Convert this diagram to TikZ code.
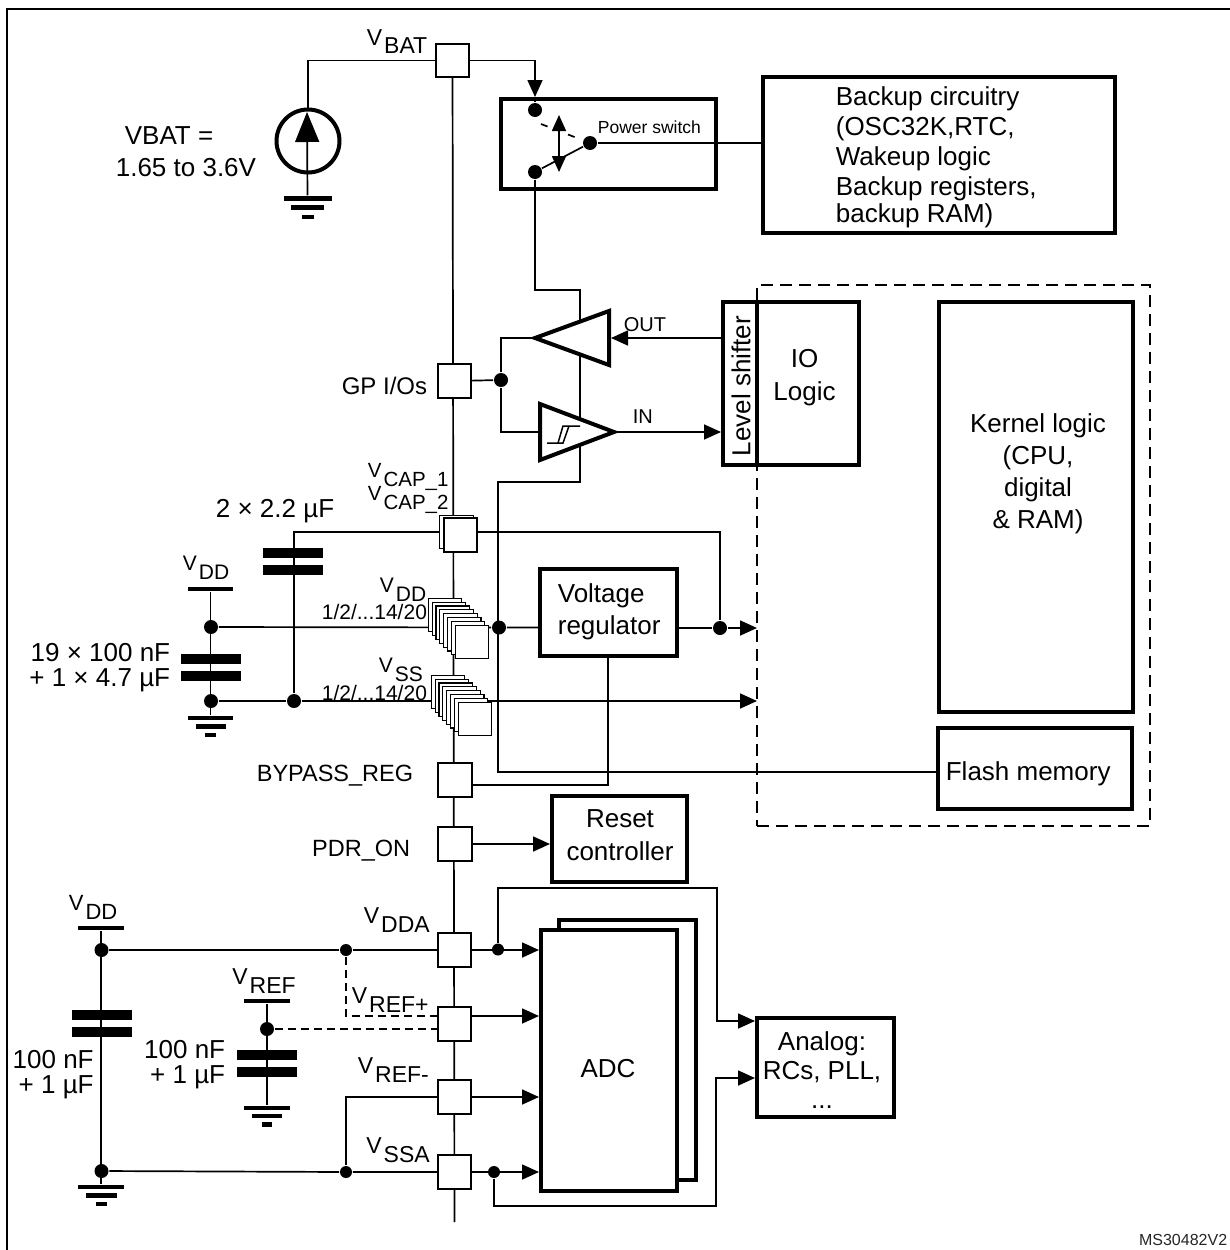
\documentclass[tikz,border=0pt]{standalone}
\usepackage{fontspec}
\setmainfont{Liberation Sans}
\usetikzlibrary{arrows.meta,backgrounds}
\newcommand{\vs}[1]{V\kern2pt\raisebox{-9pt}{#1}}
\begin{document}
\begin{tikzpicture}[x=1pt, y=-1pt, line width=1.7pt,
		pad/.style={draw, rectangle, fill=white, inner sep=0, minimum size=33.5pt},
		spad/.style={pad, line width=1.2pt},
		block/.style={draw, rectangle, line width=4pt, inner sep=0},
		dot/.style={circle, fill, inner sep=0, minimum size=14pt},
		sdot/.style={circle, fill, inner sep=0, minimum size=12pt},
		plate/.style={rectangle, fill, inner sep=0, minimum width=60pt, minimum height=10pt},
		bar/.style={rectangle, fill, inner sep=0, minimum height=4.5pt},
		lab/.style={inner sep=0, anchor=base west, font=\fontsize{23}{26}\selectfont},
		txt/.style={inner sep=0, font=\fontsize{26}{32}\selectfont},
		arr/.style={-{Triangle[length=17pt, width=15pt]}},
		tri/.style={draw, line width=4pt, fill=white, miter limit=10},
		dashline/.style={dash pattern=on 8pt off 5pt}]
		
		\useasboundingbox (0,0) rectangle (1230,1250);
		
		\coordinate (F1) at (7,1250);
		\coordinate (F2) at (7,9);
		\coordinate (F3) at (1230,9);
		\draw[line width=2.2pt] (F1) to (F2) to (F3);
		
		\node (VBAT) at (452.5,60.5) [pad] {};
		\node (GP) at (454.5,381) [pad] {};
		\node (CAP1) at (456.5,532) [spad] {};
		\node (CAP2) at (460.5,535) [pad] {};
		\node (DD1) at (445,615) [spad] {};
		\node (DD2) at (448.9,618.9) [spad] {};
		\node (DD3) at (452.7,622.7) [spad] {};
		\node (DD4) at (456.6,626.6) [spad] {};
		\node (DD5) at (460.4,630.4) [spad] {};
		\node (DD6) at (464.3,634.3) [spad] {};
		\node (DD7) at (468.1,638.1) [spad] {};
		\node (DD8) at (472,642) [spad] {};
		\node (SS1) at (448,692) [spad] {};
		\node (SS2) at (451.9,695.9) [spad] {};
		\node (SS3) at (455.7,699.7) [spad] {};
		\node (SS4) at (459.6,703.6) [spad] {};
		\node (SS5) at (463.4,707.4) [spad] {};
		\node (SS6) at (467.3,711.3) [spad] {};
		\node (SS7) at (471.1,715.1) [spad] {};
		\node (SS8) at (475,719) [spad] {};
		\node (BYP) at (455,780) [pad] {};
		\node (PDR) at (455,844) [pad] {};
		\node (DDA) at (454.5,950) [pad] {};
		\node (REFP) at (454.5,1024) [pad] {};
		\node (REFM) at (454.5,1097) [pad] {};
		\node (SSA) at (454.5,1172) [pad] {};
		\coordinate (BE) at (454.5,1222);
		
		\node (SW) at (608.5,144) [block, minimum width=215pt, minimum height=90pt] {};
		\node (BK) at (939,155) [block, minimum width=352pt, minimum height=156pt] {};
		\node (LS) at (740,383.5) [block, minimum width=34pt, minimum height=163pt] {};
		\node (IO) at (808,383.5) [block, minimum width=102pt, minimum height=163pt] {};
		\node (KL) at (1036,507) [block, minimum width=194pt, minimum height=410pt] {};
		\node (FL) at (1035,768.5) [block, minimum width=194pt, minimum height=81pt] {};
		\node (VR) at (608.5,612.5) [block, minimum width=137pt, minimum height=87pt] {};
		\node (RST) at (619.5,839) [block, minimum width=135pt, minimum height=86pt] {};
		\node (ADC1) at (627.5,1050) [block, minimum width=137pt, minimum height=260pt] {};
		\node (ADC) at (609,1060.5) [block, fill=white, minimum width=136pt, minimum height=261pt] {};
		\node (AN) at (825.5,1067.5) [block, minimum width=137pt, minimum height=99pt] {};
		\node (DB) at (953.5,555.5) [draw, line width=2pt, dash pattern=on 12pt off 7pt, inner sep=0, minimum width=393pt, minimum height=541pt] {};
		
		\node (SRC) at (308,141) [draw, circle, line width=4pt, inner sep=0, minimum size=63pt] {};
		\node (G11) at (307.5,198.5) [bar, minimum width=48pt] {};
		\node (G12) at (307.5,207.5) [bar, minimum width=33pt] {};
		\node (G13) at (307.5,217) [bar, minimum width=12pt] {};
		
		\node (D1) at (535,110) [dot] {};
		\node (D2) at (535,172) [dot] {};
		\node (D4) at (590,143) [dot] {};
		\node (D3) at (501,380) [dot] {};
		\node (D5) at (499,627.5) [dot] {};
		\node (D6) at (720,628) [dot] {};
		\node (D7) at (211,627) [dot] {};
		\node (D8) at (211,701) [dot] {};
		\node (D9) at (294,701) [dot] {};
		\node (D10) at (101.5,950) [dot] {};
		\node (D11) at (101.5,1171) [dot] {};
		\node (D12) at (346,950) [sdot] {};
		\node (D13) at (346,1172) [sdot] {};
		\node (D14) at (267,1029) [dot] {};
		\node (D15) at (498,949.5) [sdot] {};
		\node (D16) at (494,1172) [sdot] {};
		
		\node (P1) at (293,553) [plate] {};
		\node (P2) at (293,570) [plate] {};
		\node (P3) at (210.5,658.5) [plate] {};
		\node (P4) at (210.5,675.5) [plate] {};
		\node (P5) at (101.5,1014.5) [plate] {};
		\node (P6) at (101.5,1031.5) [plate] {};
		\node (P7) at (266.5,1054.5) [plate] {};
		\node (P8) at (266.5,1071.5) [plate] {};
		
		\node (R1) at (210.5,589) [bar, minimum width=45pt] {};
		\node (R2) at (101,928) [bar, minimum width=46pt] {};
		\node (R3) at (267,1001) [bar, minimum width=46pt] {};
		\node (G21) at (210.5,718) [bar, minimum width=45pt] {};
		\node (G22) at (211,726.5) [bar, minimum width=30pt] {};
		\node (G23) at (210.5,735) [bar, minimum width=11pt] {};
		\node (G31) at (101,1187) [bar, minimum width=46pt] {};
		\node (G32) at (101.5,1195.5) [bar, minimum width=31pt] {};
		\node (G33) at (101.5,1204) [bar, minimum width=11pt] {};
		\node (G41) at (267,1108) [bar, minimum width=46pt] {};
		\node (G42) at (267,1116) [bar, minimum width=30pt] {};
		\node (G43) at (267,1124.5) [bar, minimum width=10pt] {};
		
		\coordinate (T1) at (535,338);
		\coordinate (T1a) at (609,311);
		\coordinate (T1b) at (609,365);
		\coordinate (T1t) at (611,338);
		\coordinate (T2) at (540,432);
		\coordinate (T2a) at (540,404);
		\coordinate (T2b) at (540,460);
		\coordinate (T2t) at (614,432);
		\draw[tri] (T1) to (T1a) to (T1b) -- cycle;
		\draw[tri] (T2a) to (T2t) to (T2b) -- cycle;
		\coordinate (S1) at (547,443);
		\coordinate (S2) at (558,443);
		\coordinate (S3) at (563,426);
		\coordinate (S4) at (580,426);
		\coordinate (S5) at (563,443);
		\coordinate (S6) at (569,426);
		\draw[line width=1.5pt] (S1) to (S5) to (S6);
		\draw[line width=1.5pt] (S2) to (S3) to (S4);
		
		\coordinate (C1) at (535,97);
		\coordinate (C2) at (541,124);
		\coordinate (C3) at (577,138);
		\coordinate (C4) at (559,115);
		\coordinate (C5) at (559,172);
		\coordinate (C6) at (307,112);
		\coordinate (C7) at (580,290);
		\coordinate (C8) at (580,482);
		\coordinate (C9) at (498,772);
		\coordinate (C10) at (608,785);
		\coordinate (C11) at (757,628);
		\coordinate (C12) at (757,701);
		\coordinate (C13) at (346,1016);
		\coordinate (C14) at (717,888);
		\coordinate (C15) at (717,1021);
		\coordinate (C16) at (716,1206);
		\coordinate (C17) at (716,1078);
		
		\draw[arr] (VBAT.east) -| (C1);
		\draw[-] (C1) to (D1);
		\draw[dash pattern=on 7pt off 22pt] (C2) to (C3);
		\draw[-] (D2) to (D4);
		\draw[{Triangle[length=16pt, width=14pt]}-{Triangle[length=16pt, width=14pt]}] (C4) to (C5);
		\draw[-] (D4) to (D4 -| BK.west);
		\draw[-{Triangle[length=30pt, width=24pt]}] (G11) to (C6);
		
		\begin{scope}[on background layer={line width=1.7pt}]
			\draw[-] (VBAT) to (BE);
			\draw[-] (VBAT) -| (SRC.north);
			\draw[-] (D2) |- (C7) to (C8) -| (C9) to (C9 -| FL.west);
			\draw[-] (GP) to (D3);
			\draw[-] (D3) |- (T1);
			\draw[-] (D3) |- (T2);
			\draw[arr] (T1t -| LS.west) to (T1t);
			\draw[arr] (T2t) to (T2t -| LS.west);
			\draw[-] (D9) |- (CAP1);
			\draw[-] (D6) |- (CAP1);
			\draw[-] (D7) to (D5) to (D5 -| VR.west);
			\draw[-] (D6 -| VR.east) to (D6);
			\draw[arr] (D6) to (C11);
			\draw[arr] (D8) to (D9) to (C12);
			\draw[-] (R1) to (G21);
			\draw[-] (C10 |- VR.south) to (C10) to (C10 -| BYP.east);
			\draw[arr] (PDR) to (PDR -| RST.west);
			\draw[-] (R2) to (G31);
			\draw[-] (D10) to (D12) to (DDA);
			\draw[-] (D11) to (D13) to (SSA);
			\draw[-] (R3) to (G41);
			\draw[dashline] (D12) to (C13) to (C13 -| REFP.west);
			\draw[dashline] (D14) to (D14 -| REFP.west);
			\draw[-] (REFM) -| (D13);
			\draw[arr] (DDA) to (DDA -| ADC.west);
			\draw[arr] (C13 -| REFP.east) to (C13 -| ADC.west);
			\draw[arr] (REFM) to (REFM -| ADC.west);
			\draw[arr] (SSA) to (SSA -| ADC.west);
			\draw[arr] (D15) |- (C14) to (C15) to (C15 -| AN.west);
			\draw[arr] (D16) |- (C16) to (C17) to (C17 -| AN.west);
		\end{scope}
		
		\node (tVBAT) at (366,45) [lab] {\vs{BAT}};
		\node (tSRC1) at (124,144) [txt, anchor=base west] {VBAT =};
		\node (tSRC2) at (115,176) [txt, anchor=base west] {1.65 to 3.6V};
		\node (tSW) at (597,133) [lab, font=\fontsize{17.5}{20}\selectfont] {Power switch};
		\node (tBK) at (835,157) [txt, anchor=west, align=left, font=\fontsize{26}{30}\selectfont] {Backup circuitry\\(OSC32K,RTC,\\Wakeup logic\\Backup registers,\\[-3pt]backup RAM)};
		\node (tOUT) at (623,331) [lab, font=\fontsize{20}{24}\selectfont] {OUT};
		\node (tIN) at (632,423) [lab, font=\fontsize{20}{24}\selectfont] {IN};
		\node (tLS) at (741,386) [txt, rotate=90] {Level shifter};
		\node (tIO) at (804.5,378) [txt, align=center, font=\fontsize{26}{33}\selectfont] {IO\\Logic};
		\node (tKL) at (1038,474) [txt, align=center] {Kernel logic\\(CPU,\\digital\\\& RAM)};
		\node (tFL) at (945,780) [txt, anchor=base west] {Flash memory};
		\node (tVR) at (557,612) [txt, anchor=west, align=left] {Voltage\\regulator};
		\node (tRST) at (620,835) [txt, align=center, font=\fontsize{26}{33}\selectfont] {Reset\\controller};
		\node (tADC) at (608,1077) [txt, anchor=base] {ADC};
		\node (tAN) at (822,1070) [txt, align=center, font=\fontsize{26}{29}\selectfont] {Analog:\\RCs, PLL,\\...};
		
		\node (tGP) at (428,394) [lab, anchor=base east, font=\fontsize{24}{26}\selectfont] {GP I/Os};
		\node (tCAP1) at (367,477) [lab, font=\fontsize{20.5}{24}\selectfont] {\vs{CAP\_1}};
		\node (tCAP2) at (367,500) [lab, font=\fontsize{20.5}{24}\selectfont] {\vs{CAP\_2}};
		\node (tC1) at (215,517) [txt, anchor=base west] {2 × 2.2 µF};
		\node (tR1) at (182,570) [lab, font=\fontsize{21}{24}\selectfont] {\vs{DD}};
		\node (tC2a) at (171,661) [txt, anchor=base east] {19 × 100 nF};
		\node (tC2b) at (171,686) [txt, anchor=base east] {+ 1 × 4.7 µF};
		\node (tDD) at (379,592) [lab, font=\fontsize{21}{24}\selectfont] {\vs{DD}};
		\node (tDDn) at (321,619) [lab, font=\fontsize{21}{24}\selectfont] {1/2/...14/20};
		\node (tSS) at (378,672) [lab, font=\fontsize{21}{24}\selectfont] {\vs{SS}};
		\node (tSSn) at (321,700) [lab, font=\fontsize{21}{24}\selectfont] {1/2/...14/20};
		\node (tBYP) at (414,781) [lab, anchor=base east, font=\fontsize{23.5}{26}\selectfont] {BYPASS\_REG};
		\node (tPDR) at (411,856) [lab, anchor=base east, font=\fontsize{23.5}{26}\selectfont] {PDR\_ON};
		\node (tR2) at (68,910) [lab, font=\fontsize{22}{26}\selectfont] {\vs{DD}};
		\node (tC3a) at (94.5,1068) [txt, anchor=base east] {100 nF};
		\node (tC3b) at (94.5,1093) [txt, anchor=base east] {+ 1 µF};
		\node (tR3) at (231.5,984) [lab] {\vs{REF}};
		\node (tC4a) at (226,1058) [txt, anchor=base east] {100 nF};
		\node (tC4b) at (226,1083) [txt, anchor=base east] {+ 1 µF};
		\node (tDDA) at (363,923) [lab] {\vs{DDA}};
		\node (tREFP) at (351,1003) [lab] {\vs{REF+}};
		\node (tREFM) at (357,1073) [lab] {\vs{REF-}};
		\node (tSSA) at (365.5,1153) [lab] {\vs{SSA}};
		\node (tMS) at (1228,1245) [lab, anchor=base east, font=\fontsize{16}{18}\selectfont, text=black!85] {MS30482V2};
		
	\end{tikzpicture}
\end{document}
